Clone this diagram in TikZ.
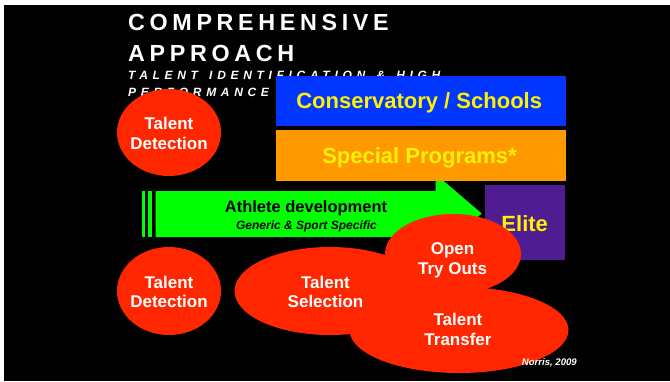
\documentclass[tikz,border=0pt]{standalone}
\usepackage{fontspec}
\setmainfont{Liberation Sans}
\newfontfamily\titlefont[LetterSpace=20]{Liberation Sans}
\newfontfamily\subfont[LetterSpace=39,WordSpace=1.4]{Liberation Sans}
\usetikzlibrary{shapes.geometric}
\definecolor{bgblue}{HTML}{0036FF}
\definecolor{bgorange}{HTML}{FF9900}
\definecolor{elitepurple}{HTML}{4F1C91}
\definecolor{talentred}{HTML}{FF2600}
\definecolor{arrowgreen}{HTML}{00FF00}
\tikzset{
  titletext/.style={anchor=base west, inner sep=0pt, text=white},
  bandbox/.style={rectangle, fill=#1, inner sep=0pt, minimum width=290pt},
  bandtext/.style={anchor=base, inner sep=0pt, text=yellow, font=\fontsize{22}{26}\selectfont\bfseries},
  blob/.style={ellipse, fill=talentred, inner sep=0pt},
  blobtext/.style={anchor=base, inner sep=0pt, text=white, font=\fontsize{17}{20}\selectfont\bfseries},
}
\begin{document}
\begin{tikzpicture}[x=1pt,y=-1pt]
\useasboundingbox (0,0) rectangle (670,381);
\fill[white] (0,0) rectangle (670,381);
\fill[black] (4,5) rectangle (670,381);
% titles
\node[titletext] (t1) at (128,30) {\fontsize{23.3}{28}\titlefont\bfseries COMPREHENSIVE};
\node[titletext] (t2) at (128,61) {\fontsize{23.3}{28}\titlefont\bfseries APPROACH};
\node[titletext] (t3) at (128,79.5) {\fontsize{12}{14}\subfont\bfseries\itshape TALENT IDENTIFICATION \& HIGH};
\node[titletext] (t4) at (128,96.5) {\fontsize{12}{14}\subfont\bfseries\itshape PERFORMANCE};
% green arrow
\fill[arrowgreen] (142,191) rectangle (145,237);
\fill[arrowgreen] (148,191) rectangle (152,237);
\fill[arrowgreen] (155.5,191) -- (435.5,191) -- (435.5,174) -- (481.7,213.5) -- (435.5,253) -- (435.5,237) -- (155.5,237) -- cycle;
\coordinate (arrowtip) at (481.7,213.5);
\node[anchor=base, inner sep=0pt, font=\fontsize{16.5}{18}\selectfont\bfseries] (ad1) at (306,212.7) {Athlete development};
\node[anchor=base, inner sep=0pt, font=\fontsize{12}{14}\selectfont\bfseries\itshape] (ad2) at (306.5,229) {Generic \& Sport Specific};
% boxes
\node[bandbox=bgblue, minimum height=50pt] (cons) at (421,101) {};
\node[bandtext] (conslbl) at (419.2,108.3) {Conservatory / Schools};
\node[bandbox=bgorange, minimum height=51pt] (spec) at (421,155.5) {};
\node[bandtext] (speclbl) at (419.5,163.3) {Special Programs*};
\node[rectangle, fill=elitepurple, inner sep=0pt, minimum width=80pt, minimum height=75.5pt] (elite) at (525,222.7) {};
\node[bandtext] (elitelbl) at (524.7,231) {Elite};
% circles and ellipses
\node[blob, minimum width=104pt, minimum height=87pt] (det1) at (169,132.5) {};
\node[blob, minimum width=104pt, minimum height=88pt] (det2) at (169,291) {};
\node[blob, minimum width=191pt, minimum height=88pt] (sel) at (330,291) {};
\node[blob, minimum width=219pt, minimum height=86pt] (tra) at (459,330) {};
\node[blob, minimum width=136pt, minimum height=80pt] (open) at (453,254) {};
% labels
\node[blobtext] (det1a) at (169,129) {Talent};
\node[blobtext] (det1b) at (169,149) {Detection};
\node[blobtext] (det2a) at (169,288.7) {Talent};
\node[blobtext] (det2b) at (169,307) {Detection};
\node[blobtext] (sela) at (325.5,288.7) {Talent};
\node[blobtext] (selb) at (325.5,307) {Selection};
\node[blobtext] (opena) at (452.6,254.6) {Open};
\node[blobtext] (openb) at (452.6,274) {Try Outs};
\node[blobtext] (traa) at (458,325.6) {Talent};
\node[blobtext] (trab) at (458,345) {Transfer};
% credit
\node[anchor=base east, inner sep=0pt, text=white, font=\fontsize{9.6}{11}\selectfont\bfseries\itshape] (cred) at (577,365) {Norris, 2009};
\end{tikzpicture}
\end{document}
